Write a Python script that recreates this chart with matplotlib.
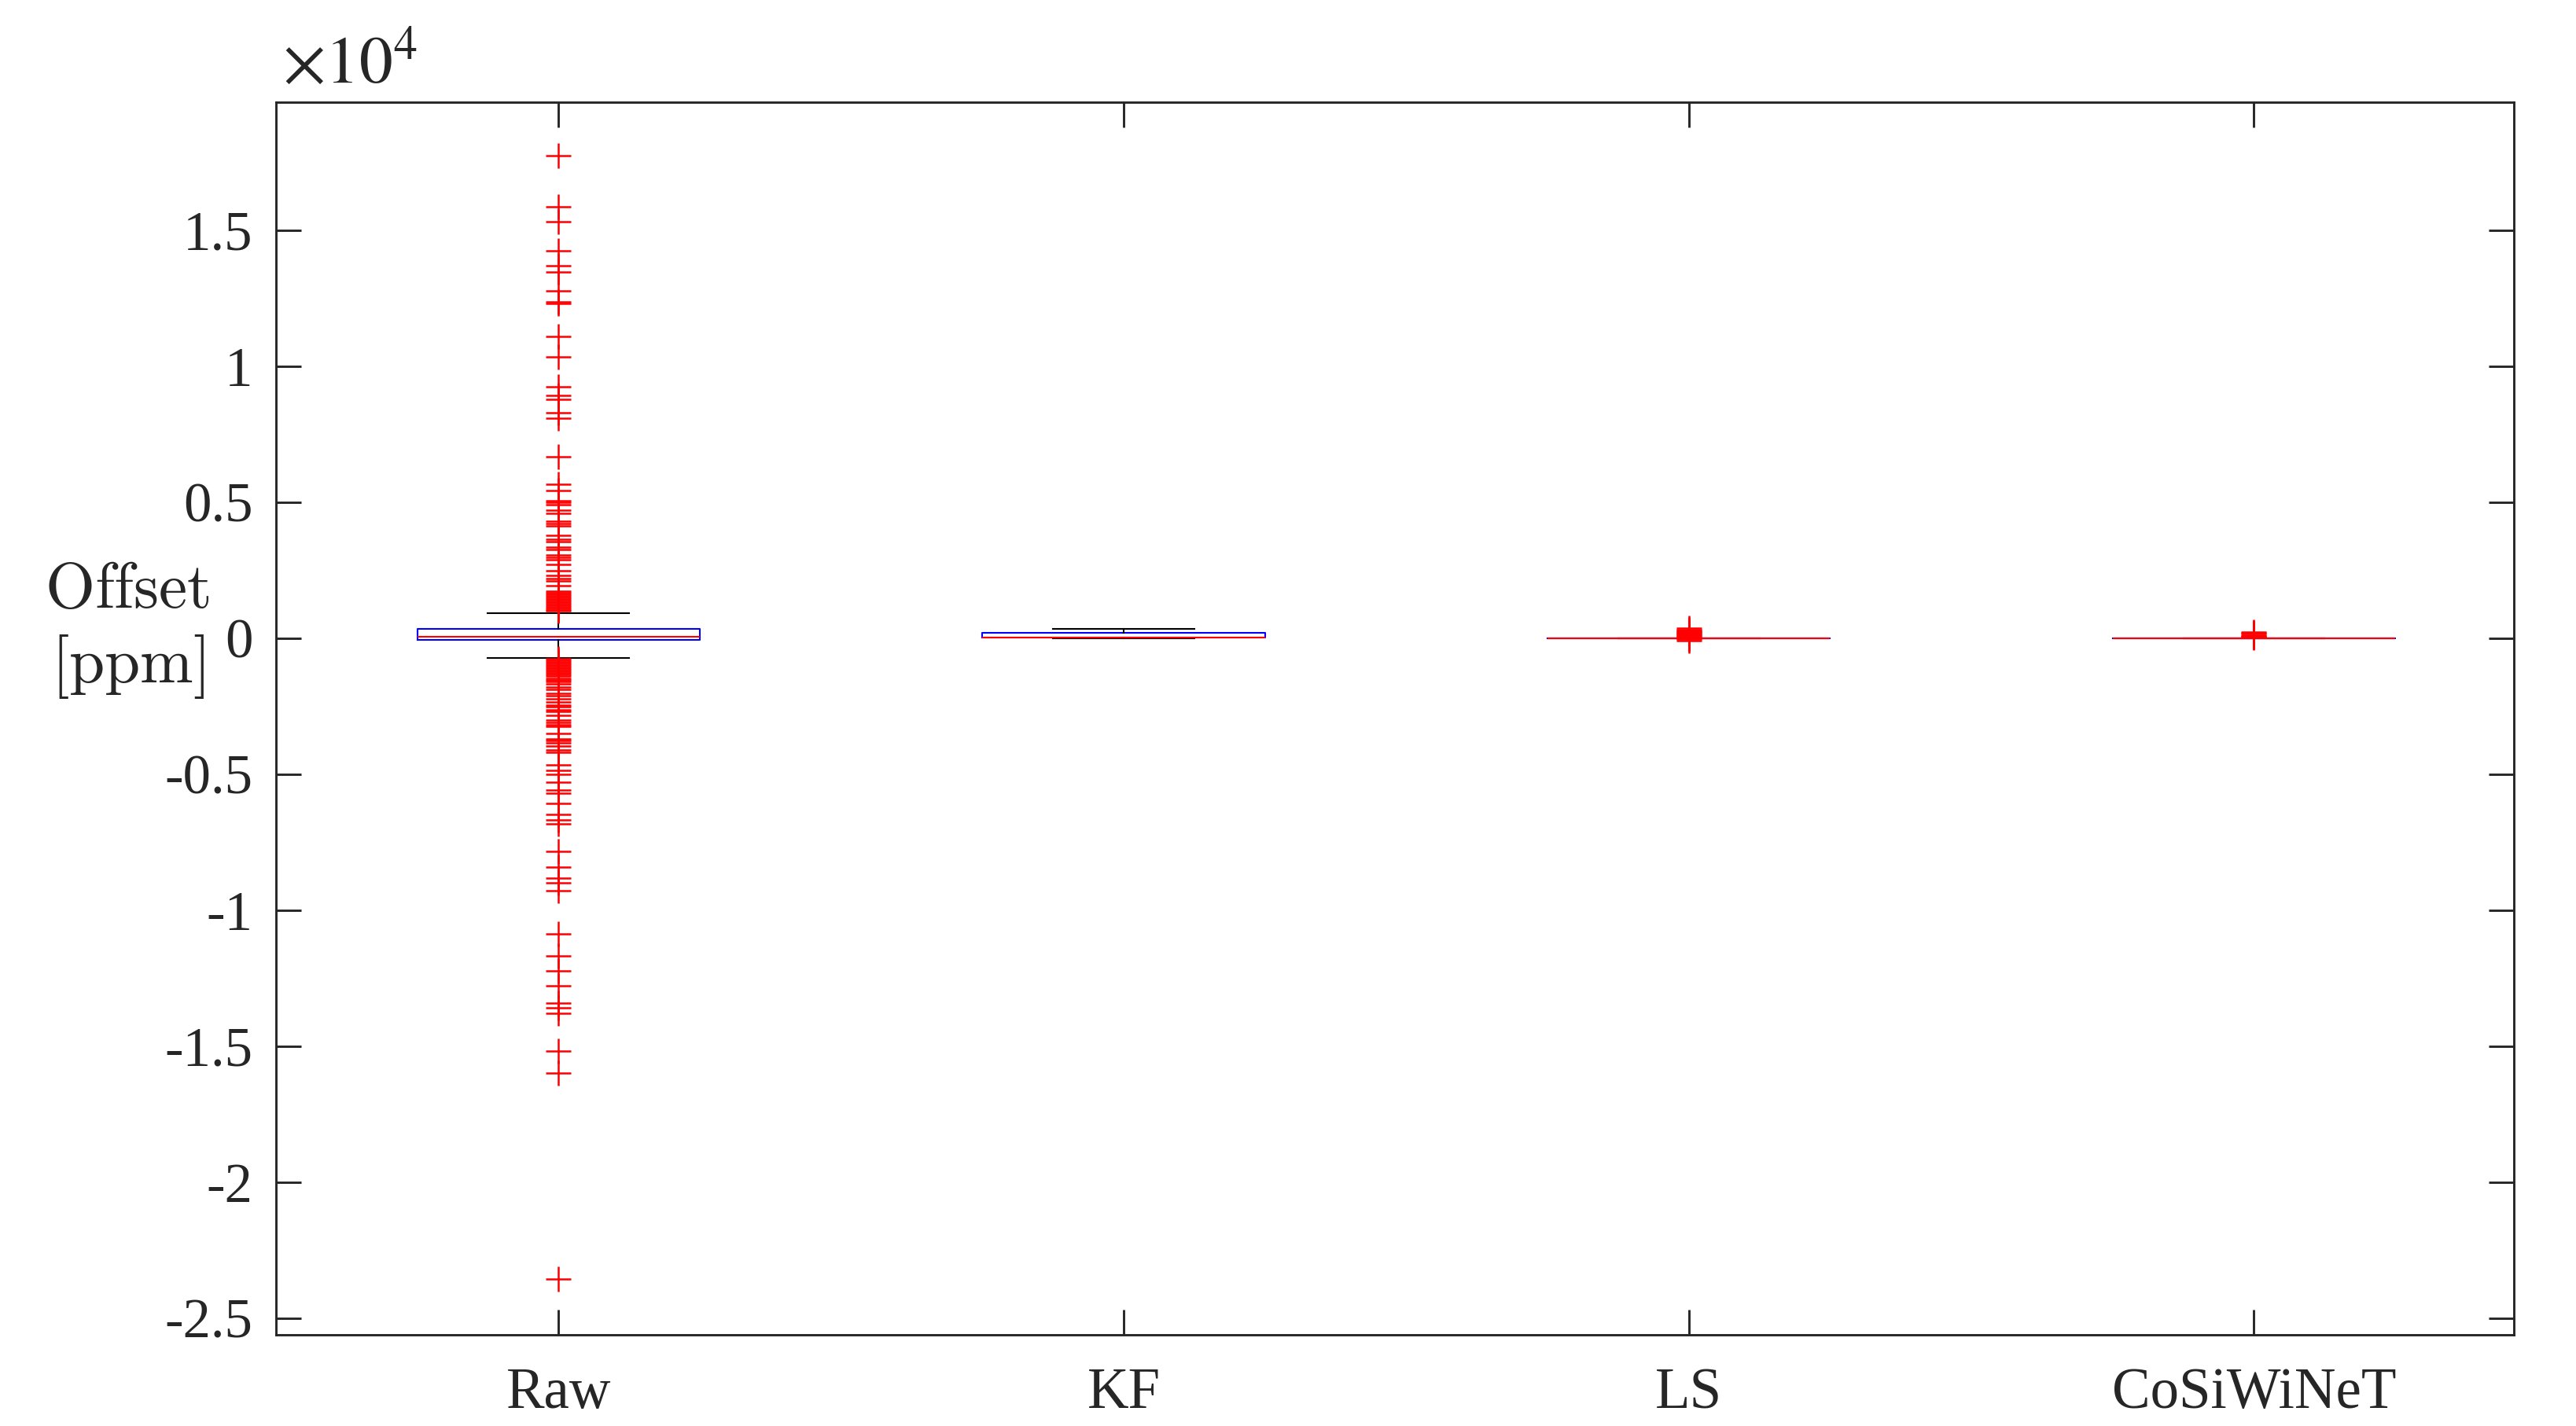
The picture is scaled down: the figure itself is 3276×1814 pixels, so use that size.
import matplotlib
matplotlib.use("Agg")
import matplotlib.pyplot as plt

plt.rcParams['font.family'] = ['Liberation Serif', 'DejaVu Serif']

# groups on the x axis
groups = ['Raw', 'KF', 'LS', 'CoSiWiNeT']

# box statistics [ppm]
q1 = [-66, 20, 0, 0]
med = [50, 30, 0, 0]
q3 = [338, 200, 0, 0]
whislo = [-723, 0, 0, 0]
whishi = [916, 345, 0, 0]

# outliers [ppm]
raw_out = [17730, 15870, 15310, 14250, 13690, 13470, 12760, 12350, 12290,
           11090, 10340, 9230, 8930, 8780, 8280, 8090, 6680, 5660, 5420,
           5060, 4980, 4900, 4700, 4580, 4310, 4210, 4120, 3790, 3630, 3540,
           3340, 3250, 3060, 2970, 2870, 2720, 2480, 2290, 2200, 2100, 1930,
           1720, 1660, 1600, 1550, 1490, 1430, 1380, 1320, 1260, 1200, 1150,
           1090, 1040, 990,
           -750, -810, -870, -930, -990, -1050, -1110, -1170, -1230, -1290,
           -1350, -1410, -1470, -1530, -1590, -1700, -1810, -1900, -2040,
           -2130, -2240, -2360, -2460, -2520, -2630, -2700, -2840, -3010,
           -3100, -3200, -3250, -3510, -3710, -3770, -3850, -3970, -4110,
           -4210, -4650, -4880, -5010, -5300, -5590, -5700, -6090, -6470,
           -6690, -6820, -7850, -8420, -8820, -9010, -9300, -10880, -11690,
           -12240, -12780, -13430, -13590, -13810, -15170, -16000, -23560]
kf_out = []
ls_out = [-90, -50, -20, 20, 40, 70, 100, 130, 160, 200, 230, 260, 290, 320, 360]
cosi_out = [15, 40, 60, 90, 120, 150, 180, 220]
outliers = [raw_out, kf_out, ls_out, cosi_out]

ytick_vals = [-25000, -20000, -15000, -10000, -5000, 0, 5000, 10000, 15000]
ytick_labels = ['-2.5', '-2', '-1.5', '-1', '-0.5', '0', '0.5', '1', '1.5']

stats = []
for i, g in enumerate(groups):
    stats.append(dict(label=g, q1=q1[i], med=med[i], q3=q3[i],
                      whislo=whislo[i], whishi=whishi[i], fliers=outliers[i]))

fig = plt.figure(figsize=(10.92, 6.0467), dpi=300)
ax = fig.add_axes([0.1071, 0.0639, 0.8688, 0.8644])

pos = list(range(1, len(groups) + 1))
ax.bxp(stats, positions=pos, widths=0.5, capwidths=0.25,
       boxprops=dict(color='#0000ff', linewidth=0.5),
       medianprops=dict(color='#ff0000', linewidth=0.5),
       whiskerprops=dict(color='black', linewidth=0.5),
       capprops=dict(color='black', linewidth=0.5),
       flierprops=dict(marker='+', markeredgecolor='#ff0000',
                       markersize=7.6, markeredgewidth=0.6, linestyle='none'))

ax.set_xlim(0.5, 4.46)
ax.set_ylim(-25620, 19700)
ax.set_xticks(pos)
ax.set_xticklabels(groups, fontsize=17.5)
ax.set_yticks(ytick_vals)
ax.set_yticklabels(ytick_labels, fontsize=17)

ax.tick_params(direction='in', length=7.6, width=0.7, colors='#262626',
               top=True, right=True, pad=7)
ax.tick_params(axis='x', pad=10)
for sp in ax.spines.values():
    sp.set_linewidth(0.7)
    sp.set_color('#262626')

# exponent label, MATLAB style
fig.text(0.1095, 0.9425, r'$\times10^{4}$', fontsize=20.5, color='#262626',
         math_fontfamily='stix', ha='left', va='baseline')

# horizontal y label in Computer Modern
fig.text(0.0495, 0.5739, r'$\mathrm{Offset}$', fontsize=19.5, color='#262626',
         math_fontfamily='cm', ha='center', va='baseline')
fig.text(0.0495, 0.5215, r'$\mathrm{[ppm]}$', fontsize=19.5, color='#262626',
         math_fontfamily='cm', ha='center', va='baseline')

fig.savefig('out.png', dpi=300)
